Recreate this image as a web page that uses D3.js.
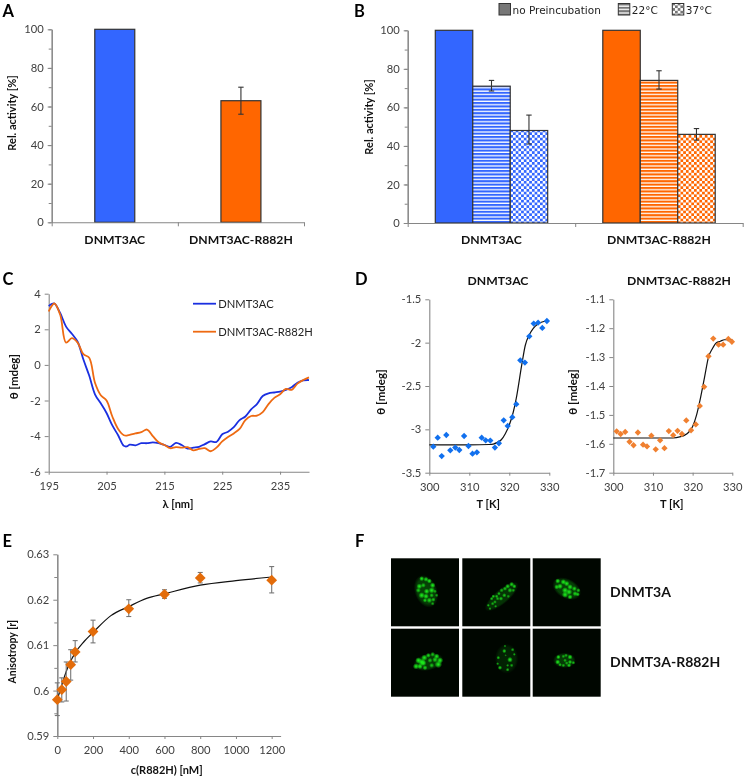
<!DOCTYPE html>
<html><head><meta charset="utf-8">
<script src="https://cdn.jsdelivr.net/npm/d3@7"></script>
<style>
html,body{margin:0;padding:0;background:#fff}
svg{display:block;filter:blur(0.35px)}
text{font-family:Lato,"Open Sans",sans-serif}
</style></head><body>
<svg id="c" width="750" height="779"></svg>
<script>
const categories=["DNMT3AC","DNMT3AC-R882H"];
const temps=["no Preincubation","22°C","37°C"];
const activityA=[100,63];
const errA=[[null,null],[56,70]];
const activityB=[[100,71,48],[100,74,46]];
const errB=[[null,[68.5,74],[41,56]],[null,[69.5,79],[43,49]]];
const cdX=[195,195.5,196,197,198,199,200,201,202,203,204,205,206,207,208,208.5,209,210,211,212,213,214,215,216,217,218,219,220,221,222,223,224,225,226,227,228,229,230,231,232,233,234,235,236,237,238,239,240];
const cdWT=[3.3,3.42,3.45,2.9,2.15,1.75,1.3,0.3,-0.6,-1.65,-2.16,-2.7,-3.4,-3.95,-4.55,-4.58,-4.48,-4.52,-4.4,-4.4,-4.35,-4.4,-4.5,-4.6,-4.38,-4.5,-4.7,-4.65,-4.6,-4.45,-4.3,-4.33,-3.9,-3.75,-3.5,-3.1,-2.9,-2.5,-2.2,-1.75,-1.6,-1.55,-1.5,-1.4,-1.25,-1,-0.87,-0.85];
const cdMut=[3,3.3,3.45,2.8,1.25,1.5,1.25,0.6,0.4,-1,-1.7,-2,-2.9,-3.6,-3.95,-3.97,-3.93,-3.85,-3.78,-3.63,-4,-4.35,-4.5,-4.68,-4.62,-4.65,-4.62,-4.8,-4.72,-4.68,-4.85,-4.65,-4.3,-4.05,-3.85,-3.6,-3.1,-2.87,-2.85,-2.65,-2.2,-1.85,-1.65,-1.35,-1.4,-1.05,-0.85,-0.7];
const d1T=[301,302.1,303.1,304.25,305.25,306.5,307.5,308.7,309.8,310.8,311.9,313.1,314.1,315.25,316.4,317.4,318.6,319.6,320.75,321.75,322.75,323.9,325,326.1,327.2,328.25,329.4];
const d1V=[-3.2,-3.096,-3.308,-3.065,-3.242,-3.21,-3.238,-3.077,-3.192,-3.28,-3.265,-3.096,-3.127,-3.13,-3.21,-3.16,-2.896,-2.96,-2.86,-2.71,-2.204,-2.23,-1.927,-1.78,-1.77,-1.83,-1.75];
const d1FitT=[300,310,315,316,317,318,319,320,321,321.75,323.1,324,325,326,327,328,329.5];
const d1FitV=[-3.18,-3.18,-3.175,-3.17,-3.15,-3.12,-3.05,-2.95,-2.8,-2.64,-2.26,-2.03,-1.91,-1.835,-1.79,-1.765,-1.75];
const d2T=[300.85,301.85,303,304.1,305.1,306.2,307.5,308.5,309.6,310.7,311.8,312.9,314,315.1,316.2,317.3,318.4,319.6,320.8,321.8,322.9,324,325.2,326.55,327.7,329,329.9];
const d2V=[-1.557,-1.566,-1.559,-1.593,-1.605,-1.561,-1.603,-1.609,-1.572,-1.619,-1.588,-1.615,-1.556,-1.57,-1.555,-1.566,-1.519,-1.553,-1.533,-1.469,-1.403,-1.297,-1.236,-1.257,-1.257,-1.237,-1.247];
const d2FitT=[300,315,317,318,319,320,321,322,323,324,325,326,327,328,329,330];
const d2FitV=[-1.58,-1.58,-1.575,-1.57,-1.56,-1.54,-1.5,-1.44,-1.37,-1.3,-1.27,-1.25,-1.245,-1.24,-1.24,-1.24];
const eC=[0,25,50,75,100,200,400,600,800,1200];
const eR=[0.598,0.6002,0.602,0.6057,0.6085,0.613,0.618,0.6212,0.6248,0.6243];
const eLo=[0.5945,0.5975,0.5977,0.6023,0.6063,0.6105,0.6163,0.6203,0.6237,0.6215];
const eHi=[0.6017,0.6028,0.6063,0.609,0.611,0.6155,0.62,0.6222,0.626,0.6273];
const eFitC=[0,25,50,75,100,150,200,300,400,500,600,800,1000,1200];
const eFitR=[0.598,0.6012,0.6042,0.6065,0.6083,0.6108,0.6128,0.6165,0.6185,0.6203,0.6213,0.6232,0.6242,0.625];
const imageLabels=["DNMT3A","DNMT3A-R882H"];
// nuclei: [cell, cx, cy, rx, ry, rotation, glow] and foci: [cx, cy, radius, brightness] on a 0–204 image grid
const nuclei=[[0,105,99,31,46,-20,.45],[1,118,115,20,58,50,.35],[2,102,91,42,27,28,.45],[3,112,100,42,23,-14,.4],[4,133,90,32,41,0,.22],[5,95,95,31,21,0,.4]];
const foci=[
[[92,61,4,1],[105,63,4,.9],[115,68,4,1],[125,81,4.5,1],[85,84,4.5,1],[97,81,4,.8],[82,96,4,.8],[122,96,5,1],[132,99,3,.7],[107,99,4.5,1],[92,111,5,1],[105,114,4.5,1],[122,111,3.5,.8],[137,111,3,.7],[115,126,4.5,.9],[127,124,3.5,.8],[102,126,3.5,.9],[125,136,3,.7]],
[[88,121,3,.8],[93,114,3,.9],[78,141,2.5,.8],[83,151,2.5,.7],[91,136,3,.7],[148,78,4,.9],[156,84,3.5,.9],[136,84,4,.9],[128,91,3.5,.8],[143,96,4,.8],[118,96,3.5,.7],[153,96,3,.7],[110,106,3,.8],[126,111,3.5,.8],[138,114,3,.6],[103,114,3,.8],[116,121,3.5,.8],[106,121,3,.7],[98,131,3,.7],[100,144,2.5,.7]],
[[75,68,4,1],[92,71,4.5,1],[102,76,4.5,1],[82,84,4.5,1],[72,86,4,.9],[97,96,5,1],[112,86,4.5,1],[125,91,4,.9],[137,96,3.5,.8],[97,109,5,1],[112,116,4,1],[127,106,4,.9],[135,108,3.5,.9],[109,101,5,1]],
[[75,113,5,1],[82,95,5,1],[92,100,6,1],[100,87,5,1],[87,113,4.5,1],[102,117,4,.9],[125,77,4,.8],[112,80,4,.9],[137,83,4.5,1],[147,95,5,1],[142,107,6,1],[122,110,4,.8],[132,93,4.5,.9],[97,103,5,1],[117,95,4,.8]],
[[128,52,2.5,.6],[126,67,3.5,.9],[151,63,3,.7],[156,77,2.5,.7],[143,93,4.5,1],[108,87,3,.8],[106,105,2.5,.7],[113,117,3.5,.9],[136,110,2.5,.7],[148,110,3,.7],[136,123,3,.8],[130,80,2,.5]],
[[77,85,3.5,1],[75,100,4,1],[82,108,3,.8],[92,83,3,.7],[100,80,3,.7],[112,85,4,1],[112,100,3.5,.9],[122,102,3,.8],[109,110,3.5,.9],[97,95,3,.7],[92,110,3,.7],[102,103,3,.7]]
];

const blue="#3366ff",orange="#ff6600",axisCol="#868686",edge="#333",tickCol="#404040";
const svg=d3.select("#c");
const defs=svg.append("defs");
function hatch(id,col){const p=defs.append("pattern").attr("id",id).attr("patternUnits","userSpaceOnUse").attr("width",6).attr("height",3.4);
 p.append("rect").attr("width",6).attr("height",3.4).attr("fill","#fff");
 p.append("rect").attr("width",6).attr("height",2.1).attr("fill",col);}
function check(id,col){const p=defs.append("pattern").attr("id",id).attr("patternUnits","userSpaceOnUse").attr("width",5.4).attr("height",5.4);
 p.append("rect").attr("width",5.4).attr("height",5.4).attr("fill","#fff");
 p.append("rect").attr("width",2.7).attr("height",2.7).attr("fill",col);
 p.append("rect").attr("x",2.7).attr("y",2.7).attr("width",2.7).attr("height",2.7).attr("fill",col);}
hatch("hB",blue);hatch("hO",orange);hatch("hG","#777");check("cB",blue);check("cO",orange);check("cG","#777");
function radial(id,col,stops){const g=defs.append("radialGradient").attr("id",id);
 stops.forEach(s=>g.append("stop").attr("offset",s[0]).attr("stop-color",col).attr("stop-opacity",s[1]));}
radial("spot","#1cf01c",[[0,1],[.35,.75],[1,0]]);
radial("body","#0f8f0f",[[0,1],[.75,.9],[1,0]]);

function styleAxis(g){g.select(".domain").attr("stroke",axisCol).attr("stroke-width",1.1);
 g.selectAll(".tick line").attr("stroke",axisCol).attr("stroke-width",1);
 g.selectAll(".tick text").attr("fill",tickCol).style("font-family","Lato,sans-serif").style("font-size","11.2px");}
function leftAxis(y,x,major,minor,fmt){
 if(minor){const m=svg.append("g").attr("transform",`translate(${x},0)`).call(d3.axisLeft(y).tickValues(minor).tickSize(3).tickSizeOuter(0).tickFormat(""));styleAxis(m);}
 const g=svg.append("g").attr("transform",`translate(${x},0)`).call(d3.axisLeft(y).tickValues(major).tickSize(4).tickSizeOuter(0).tickPadding(4).tickFormat(fmt||(d=>d)));styleAxis(g);return g;}
function bottomAxis(x,y,vals,fmt,tick=3,pad=5){const g=svg.append("g").attr("transform",`translate(0,${y})`).call(d3.axisBottom(x).tickValues(vals).tickSize(tick).tickSizeOuter(0).tickPadding(pad).tickFormat(fmt||(d=>d)));styleAxis(g);return g;}
function txt(s,x,y,size,bold,anchor="middle",fill="#111",rot){const t=svg.append("text").attr("x",x).attr("y",y).attr("font-size",size).attr("font-weight",bold?700:400).attr("text-anchor",anchor).attr("fill",fill).text(s);
 if(rot)t.attr("transform",`rotate(${rot} ${x} ${y})`);return t;}
function vTitle(s,x,y,size=11){txt(s,x,y,size,true,"middle","#111",-90);}
function errBar(x,lo,hi,cap=2.7){const g=svg.append("g").attr("stroke","#333").attr("stroke-width",1.1);
 g.append("line").attr("x1",x).attr("x2",x).attr("y1",lo).attr("y2",hi);
 [lo,hi].forEach(v=>g.append("line").attr("x1",x-cap).attr("x2",x+cap).attr("y1",v).attr("y2",v));}
[["A",2.5,17],["B",354,17],["C",2.5,285],["D",355,285],["E",2.5,547],["F",355,547]].forEach(d=>txt(d[0],d[1],d[2],16.5,true,"start","#000"));

// Panel A
{const y=d3.scaleLinear().domain([0,100]).range([222.3,29.3]);
 const x=d3.scaleBand().domain(categories).range([51.7,304]);
 const w=x.bandwidth()*0.317;
 svg.append("g").selectAll("rect").data(activityA).join("rect").attr("x",(d,i)=>x(categories[i])+x.bandwidth()/2-w/2).attr("width",w).attr("y",d=>y(d)).attr("height",d=>y(0)-y(d)).attr("fill",(d,i)=>i?orange:blue).attr("stroke",edge).attr("stroke-width",1.2);
 errBar(x(categories[1])+x.bandwidth()/2,y(errA[1][0]),y(errA[1][1]));
 leftAxis(y,51.7,d3.range(0,101,20),d3.range(0,101,10));
 const g=svg.append("g").attr("transform","translate(0,222.3)").call(d3.axisBottom(d3.scaleLinear().domain([0,2]).range([51.7,304])).tickValues([0,1,2]).tickSize(4).tickSizeOuter(0).tickFormat(""));styleAxis(g);
 categories.forEach(c=>txt(c,x(c)+x.bandwidth()/2,244,12.2,true));
 vTitle("Rel. activity [%]",15.5,113);}
// Panel B
{const y=d3.scaleLinear().domain([0,100]).range([223,30.3]);
 const x=d3.scaleBand().domain(categories).range([407.7,742.7]);
 const sub=d3.scaleBand().domain(temps).range([27.6,140]);
 const fills=[[blue,"url(#hB)","url(#cB)"],[orange,"url(#hO)","url(#cO)"]];
 activityB.forEach((vals,i)=>{
  const g=svg.append("g").attr("transform",`translate(${x(categories[i])},0)`);
  g.selectAll("rect").data(vals).join("rect").attr("x",(d,j)=>sub(temps[j])).attr("width",sub.bandwidth()).attr("y",d=>y(d)).attr("height",d=>y(0)-y(d)).attr("fill",(d,j)=>fills[i][j]).attr("stroke",edge).attr("stroke-width",1.2);
  vals.forEach((d,j)=>{if(errB[i][j])errBar(x(categories[i])+sub(temps[j])+sub.bandwidth()/2,y(errB[i][j][0]),y(errB[i][j][1]));});
 });
 leftAxis(y,407.7,d3.range(0,101,20),d3.range(0,101,10));
 const g=svg.append("g").attr("transform","translate(0,223)").call(d3.axisBottom(d3.scaleLinear().domain([0,2]).range([407.7,742.7])).tickValues([0,1,2]).tickSize(4).tickSizeOuter(0).tickFormat(""));styleAxis(g);
 categories.forEach(c=>txt(c,x(c)+x.bandwidth()/2,244,12.2,true));
 vTitle("Rel. activity [%]",372.5,117);
 const lx=[499,618.3,672.3],sw=["#777","url(#hG)","url(#cG)"];
 temps.forEach((t,i)=>{svg.append("rect").attr("x",lx[i]).attr("y",3.5).attr("width",11.5).attr("height",11.5).attr("fill",sw[i]).attr("stroke","#333").attr("stroke-width",1);
  txt(t,lx[i]+13.5,14,10.5,false,"start","#222").style("font-family","'DejaVu Sans',sans-serif");});}
// Panel C
{const x=d3.scaleLinear().domain([195,240]).range([48.7,309]);
 const y=d3.scaleLinear().domain([-6,4]).range([471.7,293.7]);
 leftAxis(y,48.7,d3.range(-6,5,2),null,d=>d<0?"-"+Math.abs(d):d);
 bottomAxis(x,471.7,d3.range(195,240,10),null,3,7);
 const line=d3.line().x(d=>x(d[0])).y(d=>y(d[1])).curve(d3.curveCatmullRom.alpha(.5));
 svg.append("path").attr("d",line(cdX.map((v,i)=>[v,cdWT[i]]))).attr("fill","none").attr("stroke","#1a2fe0").attr("stroke-width",1.8);
 svg.append("path").attr("d",line(cdX.map((v,i)=>[v,cdMut[i]]))).attr("fill","none").attr("stroke","#ee6a12").attr("stroke-width",1.8);
 [["DNMT3AC","#1a2fe0",303.7],["DNMT3AC-R882H","#ee6a12",331.7]].forEach(d=>{
  svg.append("line").attr("x1",193).attr("x2",216).attr("y1",d[2]).attr("y2",d[2]).attr("stroke",d[1]).attr("stroke-width",1.8);
  txt(d[0],218.3,d[2]+4,11.2,false,"start","#222");});
 vTitle("θ [mdeg]",18,376.7,11.5);
 txt("λ [nm]",178,508,11,true);}
// Panel D
function melt(x0,x1,domain,major,T,V,fT,fV,col,title,tx,tcx){
 const x=d3.scaleLinear().domain([300,330]).range([x0,x1]);
 const y=d3.scaleLinear().domain(domain).range([472.7,299.3]);
 leftAxis(y,x0,major,null,d=>d);
 bottomAxis(x,472.7,[300,310,320,330],null,3,7);
 svg.append("path").attr("d",d3.line().x(d=>x(d[0])).y(d=>y(d[1])).curve(d3.curveMonotoneX)(fT.map((t,i)=>[t,fV[i]]))).attr("fill","none").attr("stroke","#111").attr("stroke-width",1.2);
 svg.append("g").selectAll("path").data(T).join("path").attr("d",d3.symbol(d3.symbolSquare,20)).attr("transform",(d,i)=>`translate(${x(d)},${y(V[i])}) rotate(45)`).attr("fill",col);
 txt(title,tcx,285,12.2,true);
 vTitle("θ [mdeg]",tx,392,11.5);
 txt("T [K]",(x0+x1)/2-1,508,11,true);}
melt(429.3,549.3,[-3.5,-1.5],[-3.5,-3,-2.5,-2,-1.5],d1T,d1V,d1FitT,d1FitV,"#1170ee","DNMT3AC",385,498);
melt(613.3,732.3,[-1.7,-1.1],[-1.7,-1.6,-1.5,-1.4,-1.3,-1.2,-1.1],d2T,d2V,d2FitT,d2FitV,"#f08030","DNMT3AC-R882H",576.5,679);
// Panel E
{const x=d3.scaleLinear().domain([0,1200]).range([57.3,271.7]);
 const y=d3.scaleLinear().domain([0.59,0.63]).range([736,554.3]);
 leftAxis(y,57.3,[0.59,0.6,0.61,0.62,0.63],[0.595,0.605,0.615,0.625],d=>+d.toFixed(2));
 const xe=d3.scaleLinear().domain([0,1250]).range([57.3,280.6]);
 bottomAxis(xe,736,d3.range(0,1201,200),null,3,7);
 svg.append("path").attr("d",d3.line().x((d,i)=>x(eFitC[i])).y(d=>y(d)).curve(d3.curveMonotoneX)(eFitR)).attr("fill","none").attr("stroke","#111").attr("stroke-width",1.2);
 eC.forEach((c,i)=>{const g=svg.append("g").attr("stroke","#777").attr("stroke-width",1.1);
  g.append("line").attr("x1",x(c)).attr("x2",x(c)).attr("y1",y(eLo[i])).attr("y2",y(eHi[i]));
  [eLo[i],eHi[i]].forEach(v=>g.append("line").attr("x1",x(c)-2.5).attr("x2",x(c)+2.5).attr("y1",y(v)).attr("y2",y(v)));});
 svg.append("g").selectAll("path").data(eC).join("path").attr("d",d3.symbol(d3.symbolSquare,58)).attr("transform",(d,i)=>`translate(${x(d)},${y(eR[i])}) rotate(45)`).attr("fill","#e36c0a");
 vTitle("Anisotropy [r]",16,651.7,10.5);
 txt("c(R882H) [nM]",166.7,774,11,true);}
// Panel F
{const cx=[391,462.3,532.7],cy=[558.3,628.7],size=68;
 const u=d3.scaleLinear().domain([0,204]).range([0,size]);
 nuclei.forEach((n,i)=>{
  const col=i%3,row=Math.floor(i/3);
  const g=svg.append("g").attr("transform",`translate(${cx[col]},${cy[row]})`);
  g.append("rect").attr("width",size).attr("height",size).attr("fill","#000600");
  g.append("ellipse").attr("transform",`translate(${u(n[1])},${u(n[2])}) rotate(${n[5]})`).attr("rx",u(n[3])*1.1).attr("ry",u(n[4])*1.1).attr("fill","url(#body)").attr("opacity",n[6]);
  g.append("g").selectAll("circle").data(foci[i]).join("circle").attr("cx",d=>u(d[0])).attr("cy",d=>u(d[1])).attr("r",d=>u(d[2])*1.9).attr("fill","url(#spot)").attr("opacity",d=>d[3]);
 });
 txt(imageLabels[0],610,596.7,14,true,"start","#111");
 txt(imageLabels[1],610,667,14,true,"start","#111");}
</script></body></html>
